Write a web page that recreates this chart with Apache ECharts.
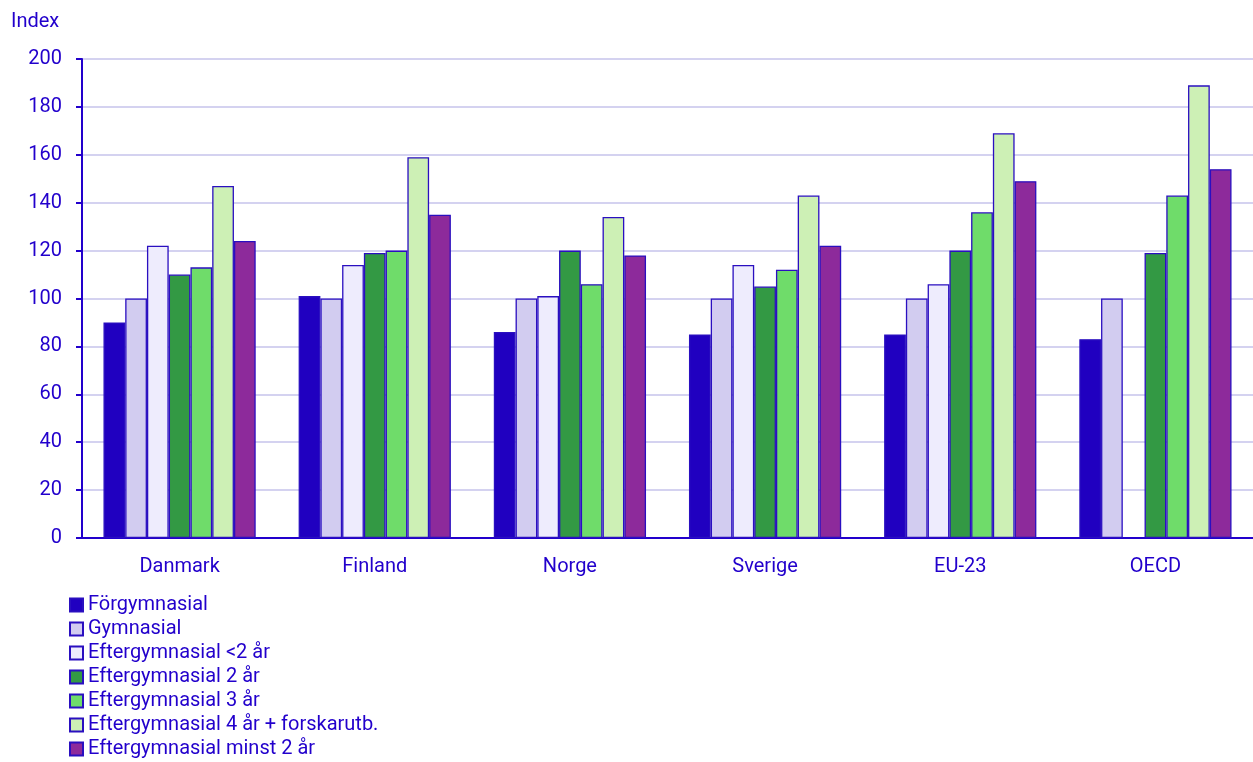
<!DOCTYPE html>
<html><head><meta charset="utf-8">
<script src="https://cdn.jsdelivr.net/npm/echarts@6/dist/echarts.min.js"></script>
<style>html,body{margin:0;padding:0;background:#fff}#c{width:1253px;height:762px}</style>
</head><body><div id="c"></div>
<script>
const categories = ['Danmark','Finland','Norge','Sverige','EU-23','OECD'];
const seriesNames = ['Förgymnasial','Gymnasial','Eftergymnasial <2 år','Eftergymnasial 2 år','Eftergymnasial 3 år','Eftergymnasial 4 år + forskarutb.','Eftergymnasial minst 2 år'];
const forgymnasial = [90,101,86,85,85,83];
const gymnasial = [100,100,100,100,100,100];
const efterLess2 = [122,114,101,114,106,null];
const efter2 = [110,119,120,105,120,119];
const efter3 = [113,120,106,112,136,143];
const efter4 = [147,159,134,143,169,189];
const efterMinst2 = [124,135,118,122,149,154];
const yTicks = [0,20,40,60,80,100,120,140,160,180,200];

const colors = ['#2000c0','#d2ccf0','#eeecfd','#339944','#6fdc6a','#cdf0b5','#8d2a9b'];
const allData = [forgymnasial,gymnasial,efterLess2,efter2,efter3,efter4,efterMinst2];
const textColor = '#2200cc';
const font = 'Roboto, "Noto Sans", sans-serif';

const chart = echarts.init(document.getElementById('c'));
chart.setOption({
  animation:false,
  textStyle:{fontFamily:font},
  title:{text:'Index',left:11,top:12,padding:0,
    textStyle:{color:textColor,fontSize:20,fontWeight:'normal',fontFamily:font}},
  grid:{left:82,right:-11,top:59,bottom:224,containLabel:false},
  legend:{
    orient:'vertical',left:69,top:595,height:200,padding:0,itemWidth:13,itemHeight:13,itemGap:4,
    icon:'rect',
    textStyle:{color:textColor,fontSize:20,fontFamily:font,lineHeight:20},
    data:seriesNames
  },
  xAxis:{
    type:'category',data:categories,
    axisLine:{lineStyle:{color:textColor,width:2}},
    axisTick:{show:false},
    axisLabel:{color:textColor,fontSize:20,fontFamily:font,margin:19}
  },
  yAxis:{
    type:'value',min:0,max:200,interval:20,
    axisLine:{show:true,lineStyle:{color:textColor,width:2}},
    axisTick:{show:true,length:6,lineStyle:{color:textColor,width:2}},
    axisLabel:{color:textColor,fontSize:20,fontFamily:font,margin:20,
      formatter:v=>yTicks.includes(v)?String(v):''},
    splitLine:{lineStyle:{color:'#d4d2f0',width:2}}
  },
  series: seriesNames.map((n,i)=>({
    name:n,type:'bar',data:allData[i],
    barGap:'0%',barCategoryGap:'22%',
    itemStyle:{color:colors[i],borderColor:'#2a0fc0',borderWidth:1.3}
  }))
});
</script></body></html>
